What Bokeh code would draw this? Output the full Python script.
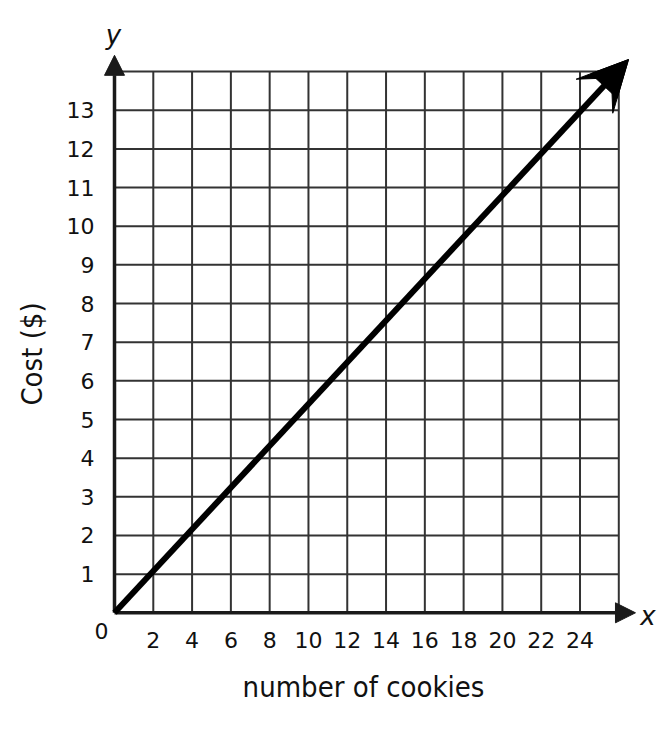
import math
from bokeh.plotting import figure
from bokeh.models import Arrow, NormalHead, VeeHead, Label, FixedTicker, Range1d, LinearAxis
from bokeh.embed import file_html
from bokeh.resources import INLINE

# ---- data ----
x_ticks = [2, 4, 6, 8, 10, 12, 14, 16, 18, 20, 22, 24]
y_ticks = [1, 2, 3, 4, 5, 6, 7, 8, 9, 10, 11, 12, 13]
grid_x = [2, 4, 6, 8, 10, 12, 14, 16, 18, 20, 22, 24, 26]
grid_y = [1, 2, 3, 4, 5, 6, 7, 8, 9, 10, 11, 12, 13, 14]
grid_x_max = 26
grid_y_max = 14
cookies = [0, 26.5]
cost = [0, 14.31]
x_axis_end = 26.86
y_axis_end = 14.42
x_title = "number of cookies"
y_title = "Cost ($)"

GRID = "#333333"
AX = "#1a1a1a"
TXT = "#111111"
FONT = "DejaVu Sans"
LABEL_FONT = "DejaVu Sans Condensed"

W, H = 660, 720
XU, YU = 19.396, 38.66          # pixels per unit
OX, OY = 114, 612.3             # origin position on the canvas

p = figure(width=W, height=H, output_backend="svg", toolbar_location=None,
           x_range=Range1d(-OX / XU, (W - OX) / XU),
           y_range=Range1d((OY - H) / YU, OY / YU),
           x_axis_location=None, y_axis_location=None,
           min_border=0, min_border_left=0, min_border_right=0,
           min_border_top=0, min_border_bottom=0)
p.outline_line_color = None
p.xgrid.visible = False
p.ygrid.visible = False
p.background_fill_color = "white"
p.border_fill_color = "white"

xaxis = LinearAxis(fixed_location=0, ticker=FixedTicker(ticks=x_ticks))
yaxis = LinearAxis(fixed_location=0, ticker=FixedTicker(ticks=y_ticks))
for ax in (xaxis, yaxis):
    ax.axis_line_color = None
    ax.major_tick_line_color = None
    ax.minor_tick_line_color = None
    ax.major_tick_in = 0
    ax.major_tick_out = 0
    ax.minor_tick_in = 0
    ax.minor_tick_out = 0
    ax.major_label_text_font = FONT
    ax.major_label_text_font_size = "22px"
    ax.major_label_text_color = TXT
xaxis.major_label_standoff = 19
yaxis.major_label_standoff = 20
p.add_layout(xaxis, "below")
p.add_layout(yaxis, "left")

# grid
p.segment(x0=grid_x, y0=[0] * len(grid_x), x1=grid_x, y1=[grid_y_max] * len(grid_x),
          line_color=GRID, line_width=2)
p.segment(x0=[0] * len(grid_y), y0=grid_y, x1=[grid_x_max] * len(grid_y), y1=grid_y,
          line_color=GRID, line_width=2)

# axes with arrowheads
p.add_layout(Arrow(end=NormalHead(size=20, fill_color=AX, line_color=AX),
                   x_start=0, y_start=0, x_end=0, y_end=y_axis_end,
                   line_color=AX, line_width=3.5))
p.add_layout(Arrow(end=NormalHead(size=20, fill_color=AX, line_color=AX),
                   x_start=0, y_start=0, x_end=x_axis_end, y_end=0,
                   line_color=AX, line_width=3.5))

# main line with a notched arrowhead (vee + filled core)
p.add_layout(Arrow(end=VeeHead(size=50, fill_color="black", line_color="black"),
                   x_start=cookies[0], y_start=cost[0], x_end=cookies[1], y_end=cost[1],
                   line_color="black", line_width=6))
p.add_layout(Arrow(end=NormalHead(size=36, fill_color="black", line_color="black"),
                   x_start=cookies[0], y_start=cost[0], x_end=cookies[1], y_end=cost[1],
                   line_alpha=0))

# axis titles
p.add_layout(Label(x=(363 - OX) / XU, y=(OY - 686) / YU, text=x_title,
                   text_font=LABEL_FONT, text_font_size="29px", text_align="center",
                   text_baseline="alphabetic", text_color=TXT))
p.add_layout(Label(x=(31.5 - OX) / XU, y=(OY - 353.5) / YU, text=y_title,
                   angle=math.pi / 2, text_font=LABEL_FONT, text_font_size="29px",
                   text_align="center", text_baseline="alphabetic", text_color=TXT))

p.add_layout(Label(x=-0.67, y=-0.46, text="0", text_font=FONT, text_font_size="22px",
                   text_align="center", text_baseline="middle", text_color=TXT))
p.add_layout(Label(x=-0.05, y=14.94, text="y", text_font=FONT, text_font_size="26px",
                   text_font_style="italic", text_align="center", text_baseline="middle",
                   text_color=TXT))
p.add_layout(Label(x=27.5, y=-0.07, text="x", text_font=FONT, text_font_size="26px",
                   text_font_style="italic", text_align="center", text_baseline="middle",
                   text_color=TXT))

open("out.html", "w").write(file_html(p, INLINE))
